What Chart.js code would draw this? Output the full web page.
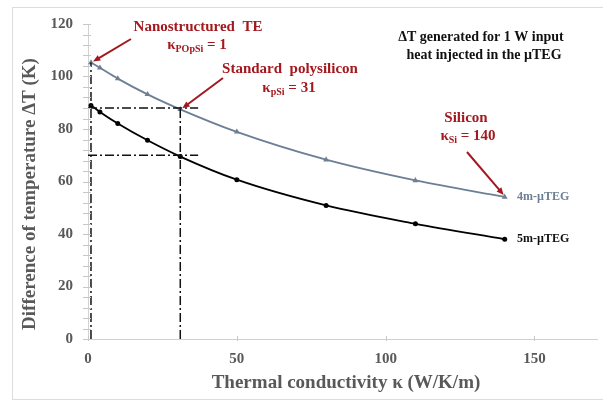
<!DOCTYPE html>
<html lang="en">
<head>
  <meta charset="UTF-8" />
  <title>ΔT vs thermal conductivity</title>
  <script src="https://cdn.jsdelivr.net/npm/chart.js"></script>
  <style>
    body {
      margin: 0;
      background: #ffffff;
    }

    #wrap {
      width: 603px;
      height: 402px;
    }
  </style>
</head>
<body>

  <div id="wrap">
    <canvas id="chart" width="603" height="402"></canvas>
  </div>

  <script>
    // data
    const kValues = [1, 4, 10, 20, 31, 50, 80, 110, 140];
    const dt4m = [105.3, 103.3, 99.2, 93.2, 87.5, 78.9, 68.3, 60.4, 54.1];
    const dt5m = [89.0, 86.5, 82.1, 75.7, 69.5, 60.7, 50.9, 43.9, 38.0];

    // dash-dot guide lines (k, dT pairs)
    const guideNano = [[1, 0], [1, 105.3]];
    const guidePoly = [[31, 0], [31, 88]];
    const guide4m = [[0, 88], [37, 88]];
    const guide5m = [[0, 70], [37, 70]];

    const yTicks = [0, 20, 40, 60, 80, 100, 120];
    const xTicks = [0, 50, 100, 150];

    const seriesNames = ['4m-\u00b5TEG', '5m-\u00b5TEG'];

    const RED = '#a3191f';
    const GREY_TXT = '#595959';
    const LINE4 = '#6c7f95';
    const SERIF = '"Liberation Serif", "Times New Roman", serif';

    const toPts = (xs, ys) => xs.map((x, i) => ({ x: x, y: ys[i] }));
    const pairPts = arr => arr.map(p => ({ x: p[0], y: p[1] }));

    const guideStyle = {
      borderColor: '#111',
      borderWidth: 1.5,
      borderDash: [9, 3, 2, 3],
      pointRadius: 0,
      tension: 0,
      fill: false
    };

    // draw text with a subscript part, centred on cx
    function subText(ctx, cx, y, main, sub, rest, size) {
      ctx.font = `bold ${size}px ${SERIF}`;
      const w1 = ctx.measureText(main).width;
      const w3 = ctx.measureText(rest).width;
      ctx.font = `bold ${size - 5}px ${SERIF}`;
      const w2 = ctx.measureText(sub).width;
      let x = cx - (w1 + w2 + w3) / 2;
      ctx.textAlign = 'left';
      ctx.font = `bold ${size}px ${SERIF}`;
      ctx.fillText(main, x, y);
      x += w1;
      ctx.font = `bold ${size - 5}px ${SERIF}`;
      ctx.fillText(sub, x, y + 4);
      x += w2;
      ctx.font = `bold ${size}px ${SERIF}`;
      ctx.fillText(rest, x, y);
    }

    function arrow(ctx, x1, y1, x2, y2) {
      const a = Math.atan2(y2 - y1, x2 - x1);
      const head = 8;
      ctx.strokeStyle = RED;
      ctx.fillStyle = RED;
      ctx.lineWidth = 2;
      ctx.beginPath();
      ctx.moveTo(x1, y1);
      ctx.lineTo(x2 - Math.cos(a) * head * 0.8, y2 - Math.sin(a) * head * 0.8);
      ctx.stroke();
      ctx.beginPath();
      ctx.moveTo(x2, y2);
      ctx.lineTo(x2 - head * Math.cos(a - 0.4), y2 - head * Math.sin(a - 0.4));
      ctx.lineTo(x2 - head * Math.cos(a + 0.4), y2 - head * Math.sin(a + 0.4));
      ctx.closePath();
      ctx.fill();
    }

    const decorPlugin = {
      id: 'decor',
      beforeDraw(chart) {
        const ctx = chart.ctx;
        ctx.save();
        ctx.fillStyle = '#fff';
        ctx.fillRect(0, 0, chart.width, chart.height);
        ctx.strokeStyle = '#dcdcdc';
        ctx.lineWidth = 1;
        ctx.strokeRect(12.5, 7.5, 600, 392);
        ctx.restore();
      },
      afterDraw(chart) {
        const ctx = chart.ctx;
        const xs = chart.scales.x;
        const ys = chart.scales.y;
        const area = chart.chartArea;
        ctx.save();

        // tick marks on the axes
        ctx.strokeStyle = '#c8c8c8';
        ctx.lineWidth = 1;
        for (let v = 0; v <= 120; v += 4) {
          const py = Math.round(ys.getPixelForValue(v)) + 0.5;
          ctx.beginPath();
          ctx.moveTo(area.left - 5, py);
          ctx.lineTo(area.left + 3, py);
          ctx.stroke();
        }
        xTicks.forEach(v => {
          const px = Math.round(xs.getPixelForValue(v)) + 0.5;
          ctx.beginPath();
          ctx.moveTo(px, area.bottom - 3);
          ctx.lineTo(px, area.bottom + 2);
          ctx.stroke();
        });

        // axis titles
        ctx.fillStyle = GREY_TXT;
        ctx.font = `bold 19px ${SERIF}`;
        ctx.textAlign = 'center';
        ctx.textBaseline = 'middle';
        ctx.fillText('Thermal conductivity \u03ba (W/K/m)', 346, 383);
        ctx.save();
        ctx.translate(30, 194);
        ctx.rotate(-Math.PI / 2);
        ctx.fillText('Difference of temperature \u0394T (K)', 0, 0);
        ctx.restore();

        // series labels
        ctx.textAlign = 'left';
        ctx.font = `bold 12px ${SERIF}`;
        ctx.fillStyle = LINE4;
        ctx.fillText(seriesNames[0], 517, 197);
        ctx.fillStyle = '#111';
        ctx.fillText(seriesNames[1], 517, 239);

        // note in the top right
        ctx.fillStyle = '#111';
        ctx.textAlign = 'center';
        ctx.font = `bold 14px ${SERIF}`;
        ctx.fillText('\u0394T generated for 1 W input', 481, 37);
        ctx.fillText('heat injected in the \u00b5TEG', 484, 55);

        // red annotations
        ctx.fillStyle = RED;
        ctx.textBaseline = 'middle';
        ctx.textAlign = 'center';
        ctx.font = `bold 15px ${SERIF}`;
        ctx.fillText('Nanostructured  TE', 198, 27);
        subText(ctx, 197, 45, '\u03ba', 'POpSi', ' = 1', 15);
        ctx.textAlign = 'center';
        ctx.font = `bold 15px ${SERIF}`;
        ctx.fillText('Standard  polysilicon', 290, 69);
        subText(ctx, 289, 88, '\u03ba', 'pSi', ' = 31', 15);
        ctx.textAlign = 'center';
        ctx.font = `bold 15px ${SERIF}`;
        ctx.fillText('Silicon', 466, 118);
        subText(ctx, 468, 136, '\u03ba', 'Si', ' = 140', 15);

        const tip = (k, v) => [xs.getPixelForValue(k), ys.getPixelForValue(v)];
        let t = tip(kValues[0], dt4m[0]);
        arrow(ctx, 131, 39, t[0] + 2, t[1] - 1);
        t = tip(kValues[4], dt4m[4]);
        arrow(ctx, 223, 78, t[0] + 2, t[1] - 1);
        t = tip(kValues[8], dt4m[8]);
        arrow(ctx, 467, 152, t[0] - 1, t[1] - 2);

        ctx.restore();
      }
    };

    new Chart(document.getElementById('chart'), {
      type: 'line',
      data: {
        datasets: [
          Object.assign({ data: pairPts(guideNano) }, guideStyle),
          Object.assign({ data: pairPts(guidePoly) }, guideStyle),
          Object.assign({ data: pairPts(guide4m) }, guideStyle),
          Object.assign({ data: pairPts(guide5m) }, guideStyle),
          {
            label: seriesNames[0],
            data: toPts(kValues, dt4m),
            borderColor: LINE4,
            backgroundColor: LINE4,
            borderWidth: 1.8,
            pointRadius: 1.6,
            pointStyle: 'triangle',
            tension: 0.4,
            cubicInterpolationMode: 'monotone',
            fill: false
          },
          {
            label: seriesNames[1],
            data: toPts(kValues, dt5m),
            borderColor: '#000',
            backgroundColor: '#000',
            borderWidth: 1.8,
            pointRadius: 1.6,
            tension: 0.4,
            cubicInterpolationMode: 'monotone',
            fill: false
          }
        ]
      },
      options: {
        responsive: false,
        animation: false,
        layout: { padding: { left: 14, top: 20, right: 6, bottom: 0 } },
        plugins: {
          legend: { display: false },
          tooltip: { enabled: false }
        },
        scales: {
          x: {
            type: 'linear',
            min: 0,
            max: 171,
            afterFit: s => { s.height = 63; },
            afterBuildTicks: s => { s.ticks = xTicks.map(v => ({ value: v })); },
            grid: { display: false, drawTicks: false },
            border: { display: true, color: '#d2d2d2', width: 1 },
            ticks: {
              padding: 11,
              color: GREY_TXT,
              font: { family: SERIF, size: 15, weight: 'bold' }
            }
          },
          y: {
            min: 0,
            max: 120,
            afterFit: s => { s.width = 74; },
            afterBuildTicks: s => { s.ticks = yTicks.map(v => ({ value: v })); },
            grid: { display: false, drawTicks: false },
            border: { display: true, color: '#d2d2d2', width: 1 },
            ticks: {
              padding: 15,
              color: GREY_TXT,
              font: { family: SERIF, size: 15, weight: 'bold' }
            }
          }
        }
      },
      plugins: [decorPlugin]
    });
  </script>

</body>
</html>
